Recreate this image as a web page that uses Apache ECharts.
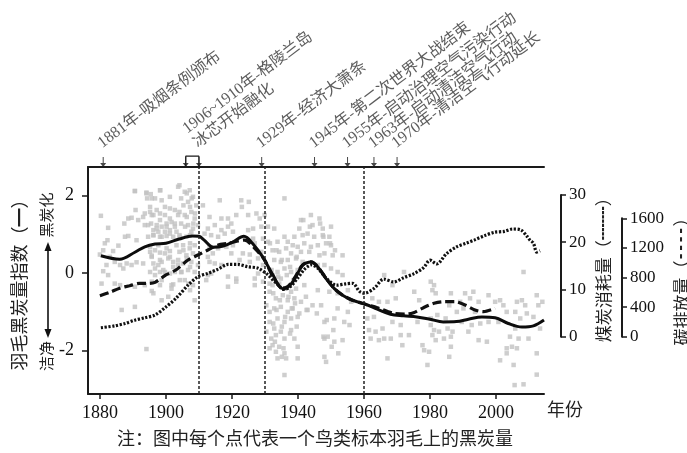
<!DOCTYPE html>
<html><head><meta charset="utf-8">
<script src="https://cdn.jsdelivr.net/npm/echarts@6/dist/echarts.min.js"></script>
<style>html,body{margin:0;padding:0;background:#fff}#c{width:687px;height:453px}</style>
</head><body><div id="c"></div>
<script>
// ---------- data ----------
const xTicks = [1880, 1900, 1920, 1940, 1960, 1980, 2000];
const yTicks = [-2, 0, 2];
const coalTicksMax = 30;
const carbonTicksMax = 1600;

const eventYears = [1881, 1906, 1910, 1929, 1945, 1955, 1963, 1970];
const eventLabels = [
  '1881年-吸烟条例颁布',
  '',
  '1906~1910年-格陵兰岛\n冰芯开始融化',
  '1929年-经济大萧条',
  '1945年-第二次世界大战结束',
  '1955年-启动治理空气污染行动',
  '1963年-启动清洁空气行动',
  '1970年-清洁空气行动延长'
];
const bracketYears = [1906, 1910];
const dividerYears = [1910, 1930, 1960];

// black-carbon index of feather specimens [year, index]
const featherPoints = [
[1890.6,2.12],[1894.1,2.08],[1895.4,2.04],[1898.3,2.14],[1896.7,1.93],[1894.3,1.93],[1880.3,1.48],[1890.8,1.63],
[1887.4,1.28],[1888.6,1.41],[1889.6,1.43],[1891.6,1.37],[1893.6,1.54],[1895.2,1.58],[1896.2,1.50],[1898.2,1.54],
[1899.7,1.50],[1901.2,1.67],[1893.6,1.24],[1895.5,1.28],[1897.2,1.24],[1898.7,1.20],[1900.2,1.28],[1901.7,1.32],
[1902.7,1.20],[1882.5,1.17],[1896.2,1.11],[1897.7,1.07],[1899.7,1.07],[1901.2,1.11],[1903.2,1.07],[1881.5,0.77],
[1882.3,0.85],[1887.6,0.94],[1888.6,0.96],[1891.1,0.85],[1894.6,0.94],[1896.2,0.98],[1898.2,0.94],[1900.2,0.96],
[1902.2,0.94],[1881.0,0.59],[1884.0,0.57],[1885.6,0.71],[1895.2,0.55],[1895.7,0.45],[1896.7,0.59],[1898.2,0.53],
[1899.7,0.51],[1901.2,0.57],[1880.0,0.48],[1883.0,0.42],[1884.5,0.29],[1886.1,0.21],[1882.0,0.21],[1889.6,0.21],
[1888.1,0.25],[1891.1,0.28],[1893.1,0.25],[1896.2,0.25],[1897.7,0.21],[1898.7,0.29],[1900.7,0.38],[1902.2,0.29],
[1903.7,0.22],[1881.0,0.05],[1882.5,-0.05],[1887.1,0.12],[1895.2,0.03],[1896.7,-0.05],[1898.2,0.03],[1899.7,0.03],
[1901.2,-0.01],[1902.7,0.03],[1880.5,-0.27],[1884.5,-0.27],[1886.1,-0.31],[1890.6,-0.35],[1893.6,-0.31],[1895.7,-0.46],
[1898.2,-0.31],[1902.2,-0.29],[1886.6,-0.95],[1890.6,-0.87],[1898.7,-0.70],[1900.7,-0.61],[1894.1,-1.96],
[1904.1,2.27],[1905.7,2.10],[1907.2,2.14],[1904.6,1.93],[1906.7,1.84],[1908.2,1.97],[1909.2,1.75],[1911.2,1.75],
[1916.3,1.88],[1922.8,1.88],[1925.1,1.84],[1923.0,1.71],[1904.1,1.58],[1905.7,1.50],[1907.7,1.58],[1908.7,1.41],
[1913.2,1.45],[1916.8,1.41],[1918.8,1.41],[1921.3,1.50],[1924.9,1.50],[1927.4,1.54],[1928.4,1.41],[1929.9,1.50],
[1904.6,1.28],[1906.7,1.24],[1908.2,1.15],[1909.7,1.24],[1912.7,1.15],[1914.8,1.24],[1916.8,1.11],[1918.8,1.20],
[1919.8,1.28],[1926.4,1.15],[1928.9,1.20],[1930.9,1.20],[1904.1,0.98],[1906.2,0.94],[1907.7,1.07],[1911.7,1.02],
[1913.7,0.98],[1915.8,0.94],[1917.8,1.02],[1920.3,1.07],[1924.9,1.11],[1926.4,0.89],[1929.4,0.89],[1905.2,0.72],
[1907.2,0.64],[1908.7,0.72],[1913.2,0.68],[1915.8,0.64],[1918.3,0.68],[1920.3,0.72],[1926.9,0.77],[1930.9,0.81],
[1904.1,0.55],[1906.2,0.46],[1908.2,0.51],[1912.7,0.42],[1914.2,0.51],[1919.8,0.51],[1923.3,0.51],[1925.4,0.48],
[1928.9,0.55],[1905.2,0.25],[1907.7,0.29],[1909.7,0.21],[1913.2,0.29],[1914.8,0.25],[1916.8,0.21],[1922.3,0.34],
[1925.4,0.29],[1927.9,0.38],[1929.4,0.21],[1904.6,0.03],[1906.7,0.08],[1908.7,0.03],[1912.7,-0.05],[1913.7,-0.01],
[1918.8,-0.09],[1921.3,-0.14],[1926.9,-0.14],[1927.9,-0.01],[1905.7,-0.18],[1908.2,-0.31],[1912.2,-0.18],[1918.8,-0.35],
[1921.3,-0.22],[1926.9,-0.31],[1929.4,-0.22],[1931.4,-0.27],[1908.7,-0.70],[1931.4,-0.48],[1930.4,-0.83],[1931.4,-1.00],
[1931.4,-1.26],[1930.4,-1.51],[1931.9,-1.69],[1931.4,-1.94],
[1935.9,1.93],[1943.9,1.50],[1946.5,1.41],[1940.9,1.37],[1947.5,1.15],[1950.0,1.20],[1944.4,1.24],[1940.4,1.15],
[1932.8,1.15],[1935.9,0.94],[1938.9,0.94],[1941.4,0.98],[1942.9,1.02],[1947.5,0.98],[1949.5,0.94],[1944.9,0.94],
[1953.5,0.46],[1950.5,0.46],[1933.8,0.81],[1936.9,0.81],[1938.4,0.72],[1939.9,0.68],[1941.9,0.77],[1943.9,0.68],
[1946.0,0.72],[1948.5,0.77],[1950.0,0.72],[1932.3,0.59],[1934.3,0.55],[1936.4,0.64],[1937.9,0.51],[1940.9,0.55],
[1943.4,0.55],[1946.5,0.46],[1948.0,0.51],[1932.8,0.34],[1934.8,0.29],[1936.9,0.34],[1939.4,0.38],[1941.4,0.29],
[1946.0,0.21],[1948.0,0.21],[1950.0,0.12],[1952.0,0.03],[1953.5,-0.05],[1933.8,0.03],[1935.9,0.12],[1937.9,0.03],
[1939.9,0.08],[1932.3,-0.05],[1934.8,-0.14],[1932.3,-0.31],[1934.3,-0.27],[1935.9,-0.40],[1937.9,-0.48],[1939.4,-0.40],
[1941.9,-0.31],[1946.0,-0.44],[1949.5,-0.48],[1952.0,-0.52],[1955.1,-0.44],[1956.1,-0.74],[1933.3,-0.65],[1935.4,-0.57],
[1936.9,-0.70],[1938.9,-0.65],[1940.9,-0.74],[1942.4,-0.61],[1944.4,-0.83],[1947.0,-0.83],[1952.0,-0.91],[1955.1,-1.00],
[1932.8,-0.91],[1934.8,-0.87],[1936.9,-1.00],[1938.4,-0.91],[1940.4,-1.04],[1942.9,-0.95],[1933.8,-1.17],[1935.9,-1.26],
[1937.9,-1.17],[1939.9,-1.13],[1948.0,-1.26],[1951.0,-1.17],[1954.0,-1.26],[1955.6,-1.34],[1932.8,-1.43],[1934.8,-1.51],
[1937.9,-1.47],[1933.3,-1.60],[1935.9,-1.69],[1938.9,-1.69],[1948.0,-1.69],[1949.0,-1.64],[1951.0,-1.77],[1953.5,-1.73],
[1932.3,-1.86],[1934.3,-1.90],[1939.9,-1.90],[1933.3,-2.03],[1935.9,-2.07],[1936.4,-2.20],[1933.8,-2.20],[1939.9,-2.20],
[1948.0,-2.16],[1948.5,-2.29],[1935.9,-2.63],
[1966.1,-0.05],[1972.1,0.03],[1968.6,-0.31],[1975.2,-0.48],[1980.2,-0.22],[1981.2,-0.31],[1980.7,-0.44],[1981.7,-0.52],
[1986.3,-0.52],[1962.5,-0.65],[1964.5,-0.74],[1967.1,-0.74],[1969.6,-0.65],[1976.7,-0.70],[1985.8,-0.83],[1961.0,-1.17],
[1963.0,-1.13],[1965.6,-1.43],[1968.6,-1.26],[1971.1,-1.34],[1976.2,-1.26],[1980.2,-1.17],[1982.2,-1.08],[1984.7,-1.17],
[1961.5,-1.47],[1963.5,-1.51],[1966.1,-1.69],[1968.1,-1.69],[1971.1,-1.60],[1973.6,-1.60],[1980.2,-1.34],[1981.2,-1.47],
[1982.7,-1.51],[1985.3,-1.43],[1986.8,-1.51],[1962.0,-1.69],[1964.5,-1.73],[1971.6,-1.86],[1977.7,-1.86],[1980.7,-1.60],
[1981.7,-1.73],[1984.2,-1.69],[1986.3,-1.64],[1978.2,-1.99],[1979.7,-2.03],[1986.3,-1.90],[1985.8,-2.16],[1967.1,-2.20],
[1979.2,-2.37],
[2008.3,0.03],[1990.6,-0.52],[1993.1,-0.48],[1997.7,-0.57],[2012.3,-0.57],[2014.0,-0.74],[1989.1,-0.74],[1992.1,-0.65],
[1994.7,-0.74],[1999.7,-0.74],[2001.2,-0.70],[2002.2,-0.83],[2006.3,-0.74],[2007.8,-0.70],[2008.8,-0.83],[2012.8,-0.83],
[1988.1,-1.00],[1990.1,-0.91],[1993.6,-1.00],[2003.2,-1.00],[2005.8,-1.00],[2009.3,-1.04],[2011.3,-1.13],[1989.6,-1.26],
[1992.6,-1.34],[1995.2,-1.30],[1997.7,-1.26],[2000.7,-1.26],[2007.3,-1.17],[1991.6,-1.51],[1994.7,-1.73],[1997.2,-1.77],
[2004.2,-1.64],[2006.8,-1.69],[2009.8,-1.69],[2005.8,-1.43],[2013.3,-1.43],[2003.2,-1.94],[2004.8,-1.90],[2006.3,-1.94],
[2012.3,-2.07],[2003.2,-2.07],[2001.2,-2.25],[2005.3,-2.37],[2012.3,-2.62],[2005.6,-2.89],[2008.3,-2.87],
[1890.6,2.12],[1894.1,2.06],[1898.2,2.14],[1903.7,2.23],[1895.7,1.93],[1898.7,1.88],[1901.2,1.97],[1906.3,2.06],
[1907.8,1.93],[1895.2,1.71],[1897.2,1.63],[1899.7,1.71],[1902.7,1.63],[1905.3,1.75],[1907.3,1.71],[1893.1,1.45],
[1895.7,1.50],[1898.2,1.37],[1901.2,1.41],[1903.7,1.50],[1906.3,1.45],[1908.8,1.54],[1894.6,1.24],[1897.2,1.15],
[1900.2,1.20],[1902.7,1.28],[1905.8,1.20],[1908.3,1.28],[1896.2,0.98],[1898.7,0.94],[1901.2,1.02],[1904.2,0.94],
[1907.3,0.98],[1895.2,0.68],[1897.7,0.72],[1900.2,0.64],[1903.2,0.72],[1905.3,0.59],[1907.3,0.77],[1895.7,0.42],
[1898.2,0.34],[1901.2,0.42],[1903.7,0.34],[1906.3,0.38],[1896.7,0.12],[1899.2,0.08],[1902.2,0.16],[1904.7,0.03],
[1907.3,0.16],[1895.7,-0.22],[1898.7,-0.18],[1901.7,-0.31],[1904.2,-0.18],[1906.8,-0.27],[1896.2,-0.52],[1901.7,-0.40],
[1907.3,-0.44],
[1931.5,0.77],[1933.5,0.59],[1935.1,0.34],[1937.6,0.16],[1939.6,0.42],[1932.0,0.08],[1934.0,-0.09],[1936.6,-0.05],
[1938.6,-0.18],[1932.5,-0.52],[1934.5,-0.70],[1937.1,-0.61],[1939.1,-0.78],[1933.5,-0.95],[1936.1,-1.13],[1938.1,-0.91],
[1932.5,-1.30],[1935.1,-1.38],[1937.6,-1.56],[1939.6,-1.38],[1941.6,1.37],[1943.6,1.20],[1946.7,1.28],[1947.7,0.94],
[1949.7,0.77],[1951.2,0.59],[1942.6,-0.95],[1945.7,-1.04],[1948.7,-1.21],[1950.7,-1.47],[1947.7,-1.64],[1950.2,-1.90],
[1952.2,-2.07],[1933.0,-1.77],[1935.6,-1.94],[1935.1,-2.16]
];

// smoothed black-carbon index (solid line)
const blackCarbonIndex = [
[1880.3,0.45],[1886,0.36],[1890.6,0.54],[1893.6,0.68],[1896.7,0.75],[1900,0.77],[1904,0.88],[1908,0.96],[1910,0.95],
[1911.5,0.86],[1914.3,0.67],[1917.4,0.70],[1920.4,0.81],[1923.6,0.95],[1926.5,0.74],[1929.3,0.42],[1932.3,-0.03],
[1935.4,-0.40],[1937,-0.36],[1938.8,-0.18],[1941.5,0.21],[1944,0.29],[1946,0.16],[1948.5,-0.14],[1951,-0.40],
[1953.5,-0.57],[1956.5,-0.70],[1960.6,-0.81],[1964,-0.93],[1968,-1.06],[1972,-1.10],[1976,-1.13],[1980,-1.19],
[1984,-1.26],[1988,-1.25],[1991.6,-1.19],[1995.7,-1.13],[1999.7,-1.15],[2003.7,-1.30],[2007.8,-1.39],[2011.3,-1.36],
[2014.5,-1.21]
];

// coal consumption (dotted line)
const coalConsumption = [
[1880.3,1.9],[1884.5,2.3],[1887.6,2.8],[1890.6,3.5],[1893.6,4.0],[1896.7,4.6],[1900,6.3],[1903,8.1],[1906.7,10.9],
[1909.7,12.7],[1912.7,13.4],[1915.8,14.3],[1918.8,15.3],[1921.8,15.3],[1924.8,14.8],[1927.9,14.5],[1930.9,13.1],
[1932.4,12.0],[1934,11.0],[1935.5,10.0],[1937.5,10.5],[1940,12.5],[1942,14.3],[1944,15.2],[1946,14.5],[1948.5,12.4],
[1951.7,10.9],[1954.5,11.2],[1956.6,11.3],[1958.6,9.6],[1960,9.2],[1963,10.2],[1966,12.2],[1969,11.6],[1972,12.5],
[1975,13.3],[1978,14.6],[1980,16.2],[1982,15.4],[1985,17.6],[1988,19.0],[1991,19.8],[1993.5,20.5],[1996.5,21.4],
[1999.5,22.1],[2002.5,22.3],[2005,22.8],[2007.5,22.6],[2009.3,21.3],[2010.3,20.4],[2011.3,19.8],[2012.3,17.9],
[2013.3,18.2]
];

// carbon emission (dashed line)
const carbonEmission = [
[1880,554],[1883,600],[1886,654],[1889,689],[1892,721],[1895,721],[1896.7,735],[1900,834],[1903,901],[1906.7,1036],
[1909.7,1104],[1912.7,1171],[1915.8,1239],[1918.8,1262],[1921.8,1293],[1923.8,1306],[1926.9,1194],[1929.9,1036],
[1932.4,811],[1935.3,657],[1936.9,677],[1938.9,790],[1941.4,970],[1944,1012],[1946,944],[1948.5,788],[1951,651],
[1953.5,562],[1956.5,494],[1960.6,436],[1964,392],[1969,316],[1973,307],[1975,324],[1978,392],[1981.2,451],
[1984.2,473],[1987.5,473],[1990.6,428],[1993.6,361],[1996.2,338],[1999.7,384]
];

// ---------- chart ----------
const X_MIN = 1876.4, X_MAX = 2014.5;
const Y_MIN = -3.12, Y_MAX = 2.74, BRACKET_TOP = 3.02;
const INK = '#1a1a1a';
const SERIF = 'Liberation Serif';
const CJK = 'Noto Sans CJK SC';
const MIX = '"Liberation Serif", "Noto Sans CJK SC"';
const plain = v => String(v);

const chart = echarts.init(document.getElementById('c'), null, {renderer: 'canvas'});

const hiddenX = (gi) => ({gridIndex: gi, type: 'value', min: X_MIN, max: X_MAX, show: false});

const arrowPath = 'path://M2.5,0 L3.5,0 L3.5,6 L6,6 L3,10 L0,6 L2.5,6 Z';
const gridBase = {outerBoundsMode: 'none', containLabel: false};

const option = {
  animation: false,
  backgroundColor: '#fff',
  grid: [
    Object.assign({left: 88, top: 167, width: 456, height: 227}, gridBase),
    Object.assign({left: 88, top: 195, width: 456, height: 141.7}, gridBase),
    Object.assign({left: 88, top: 218.3, width: 456, height: 118.4}, gridBase)
  ],
  xAxis: [
    {
      gridIndex: 0, type: 'value', min: X_MIN, max: X_MAX, position: 'bottom',
      axisLine: {onZero: false, lineStyle: {color: INK, width: 2}},
      axisTick: {customValues: xTicks, length: 5, lineStyle: {color: INK, width: 1.5}},
      axisLabel: {customValues: xTicks, formatter: plain, fontSize: 18, fontFamily: SERIF, color: '#111', margin: 10},
      splitLine: {show: false},
      name: '年份', nameLocation: 'end', nameGap: 3,
      nameTextStyle: {fontSize: 18, fontFamily: CJK, color: '#222', verticalAlign: 'top', padding: [6, 0, 0, 0]}
    },
    {
      gridIndex: 0, type: 'value', min: X_MIN, max: X_MAX, position: 'top',
      axisLine: {onZero: false, lineStyle: {color: INK, width: 2}},
      axisTick: {show: false}, axisLabel: {show: false}, splitLine: {show: false}
    },
    hiddenX(1),
    hiddenX(2)
  ],
  yAxis: [
    {
      gridIndex: 0, type: 'value', min: Y_MIN, max: Y_MAX,
      axisLine: {show: true, onZero: false, lineStyle: {color: INK, width: 2}},
      axisTick: {show: true, customValues: yTicks, length: 6, lineStyle: {color: INK, width: 1.5}},
      axisLabel: {customValues: yTicks, formatter: plain, fontSize: 18, fontFamily: SERIF, color: '#111', margin: 14},
      splitLine: {show: false},
      name: '羽毛黑炭量指数（━）', nameLocation: 'middle', nameRotate: 90, nameGap: 60,
      nameTextStyle: {fontSize: 18, fontFamily: CJK, color: '#222'}
    },
    {
      gridIndex: 1, type: 'value', position: 'right', offset: 17, min: 0, max: coalTicksMax, interval: 10,
      axisLine: {show: true, lineStyle: {color: INK, width: 2}},
      axisTick: {show: true, length: 5, lineStyle: {color: INK, width: 1.5}},
      axisLabel: {formatter: plain, fontSize: 17, fontFamily: SERIF, color: '#111', margin: 8},
      splitLine: {show: false},
      name: '煤炭消耗量（┉┉）', nameLocation: 'middle', nameRotate: 90, nameGap: 29,
      nameTextStyle: {fontSize: 17, fontFamily: MIX, color: '#222'}
    },
    {
      gridIndex: 2, type: 'value', position: 'right', offset: 78, min: 0, max: carbonTicksMax, interval: 400,
      axisLine: {show: true, lineStyle: {color: INK, width: 2}},
      axisTick: {show: true, length: 5, lineStyle: {color: INK, width: 1.5}},
      axisLabel: {formatter: plain, fontSize: 17, fontFamily: SERIF, color: '#111', margin: 8},
      splitLine: {show: false},
      name: '碳排放量（╍╍）', nameLocation: 'middle', nameRotate: 90, nameGap: 51,
      nameTextStyle: {fontSize: 17, fontFamily: MIX, color: '#222'}
    }
  ],
  series: [
    {
      type: 'scatter', name: 'feathers', xAxisIndex: 0, yAxisIndex: 0, data: featherPoints,
      symbol: 'rect', symbolSize: 4.5, itemStyle: {color: '#c2c2c2'}, silent: true, z: 1
    },
    {
      type: 'line', name: 'coal', xAxisIndex: 2, yAxisIndex: 1, data: coalConsumption,
      showSymbol: false, smooth: 0.3, lineStyle: {color: '#111', width: 3.2, type: [2.2, 1.6]}, z: 3, silent: true
    },
    {
      type: 'line', name: 'carbon', xAxisIndex: 3, yAxisIndex: 2, data: carbonEmission,
      showSymbol: false, smooth: 0.3, lineStyle: {color: '#111', width: 3.2, type: [9, 4]}, z: 3, silent: true
    },
    {
      type: 'line', name: 'index', xAxisIndex: 0, yAxisIndex: 0, data: blackCarbonIndex,
      showSymbol: false, smooth: 0.35, lineStyle: {color: '#0d0d0d', width: 3}, z: 4, silent: true,
      markLine: {
        silent: true, symbol: ['none', 'none'], label: {show: false},
        lineStyle: {color: '#222', width: 1.5, type: [3, 2]},
        data: dividerYears.map(y => ({xAxis: y}))
      }
    },
    {
      type: 'line', name: 'bracket', xAxisIndex: 0, yAxisIndex: 0, clip: false,
      data: [[bracketYears[0], Y_MAX], [bracketYears[0], BRACKET_TOP], [bracketYears[1], BRACKET_TOP], [bracketYears[1], Y_MAX]],
      showSymbol: false, lineStyle: {color: INK, width: 1.2}, z: 5, silent: true
    },
    {
      type: 'scatter', name: 'events', xAxisIndex: 0, yAxisIndex: 0, clip: false,
      data: eventYears.map((y, i) => ({value: [y, Y_MAX], label: {show: eventLabels[i] !== ''}})),
      symbol: arrowPath, symbolSize: [6, 10], symbolOffset: [0, -5],
      itemStyle: {color: INK}, z: 5, silent: true,
      label: {
        show: true, formatter: p => eventLabels[p.dataIndex],
        position: [5, -5], rotate: 37, align: 'left', verticalAlign: 'bottom',
        fontSize: 16, lineHeight: 18, fontFamily: MIX, color: '#333'
      }
    }
  ],
  graphic: [
    {type: 'text', x: 46, y: 215, rotation: Math.PI / 2,
     style: {text: '黑炭化', font: '15px "Noto Sans CJK SC"', fill: '#222', textAlign: 'center', textVerticalAlign: 'middle'}},
    {type: 'text', x: 46, y: 356, rotation: Math.PI / 2,
     style: {text: '洁净', font: '15px "Noto Sans CJK SC"', fill: '#222', textAlign: 'center', textVerticalAlign: 'middle'}},
    {type: 'line', shape: {x1: 48, y1: 246, x2: 48, y2: 334}, style: {stroke: '#111', lineWidth: 1.6}},
    {type: 'polygon', shape: {points: [[48, 242], [44.5, 251], [51.5, 251]]}, style: {fill: '#111'}},
    {type: 'polygon', shape: {points: [[48, 338], [44.5, 329], [51.5, 329]]}, style: {fill: '#111'}},
    {type: 'text', x: 315, y: 438,
     style: {text: '注：图中每个点代表一个鸟类标本羽毛上的黑炭量', font: '18px "Noto Sans CJK SC"', fill: '#222', textAlign: 'center', textVerticalAlign: 'middle'}}
  ]
};
chart.setOption(option);
</script></body></html>
